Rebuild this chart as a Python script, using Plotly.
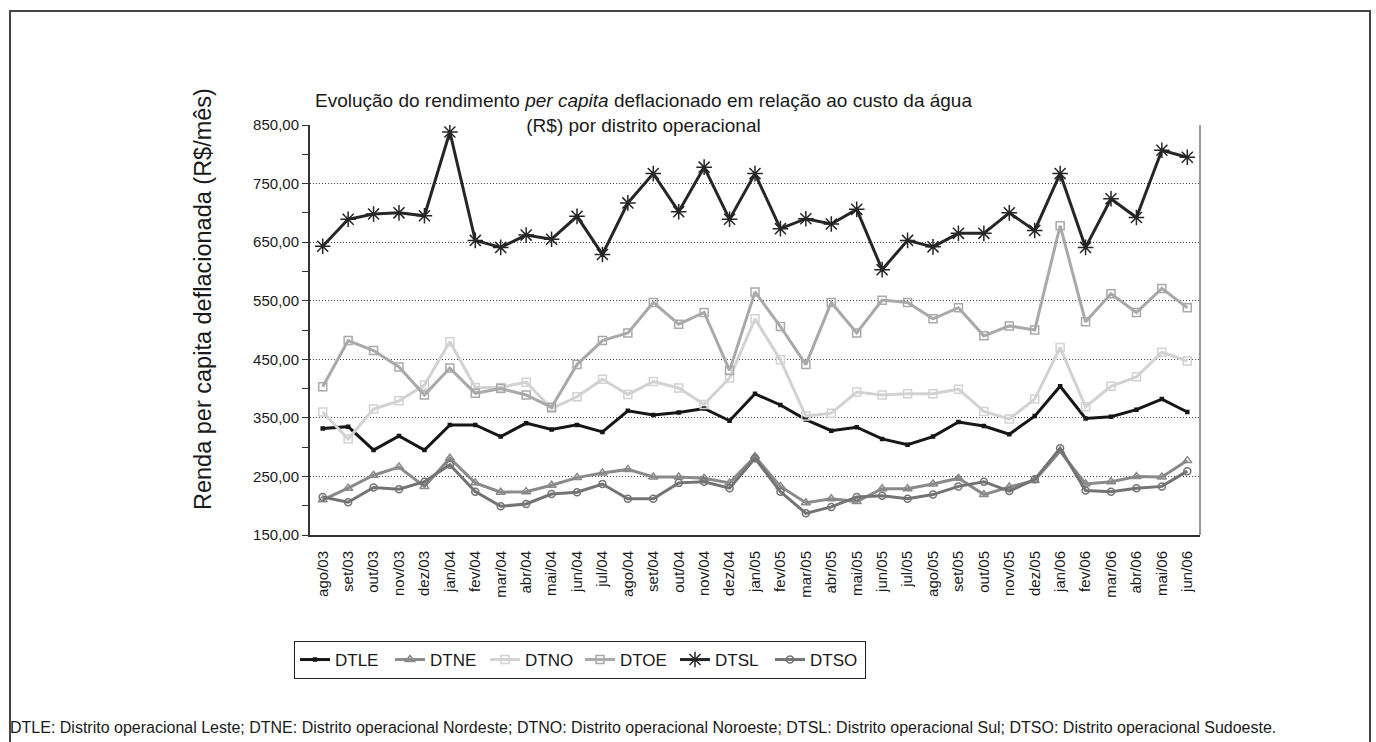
import plotly.graph_objects as go

# Months (ago/03 .. jun/06)
meses = ["ago/03", "set/03", "out/03", "nov/03", "dez/03", "jan/04", "fev/04", "mar/04",
         "abr/04", "mai/04", "jun/04", "jul/04", "ago/04", "set/04", "out/04", "nov/04",
         "dez/04", "jan/05", "fev/05", "mar/05", "abr/05", "mai/05", "jun/05", "jul/05",
         "ago/05", "set/05", "out/05", "nov/05", "dez/05", "jan/06", "fev/06", "mar/06",
         "abr/06", "mai/06", "jun/06"]

dtle = [332, 335, 295, 319, 295, 338, 338, 318, 341, 330, 338, 326, 362, 355, 359, 366,
        345, 391, 372, 347, 328, 334, 314, 304, 318, 343, 336, 322, 353, 404, 349, 352,
        364, 382, 360]
dtne = [210, 230, 252, 266, 233, 281, 239, 223, 224, 235, 248, 256, 262, 249, 249, 247,
        239, 284, 233, 205, 212, 207, 229, 229, 237, 247, 219, 232, 243, 293, 237, 241,
        250, 249, 277]
dtno = [360, 314, 365, 379, 406, 480, 402, 402, 411, 366, 386, 416, 390, 412, 401, 373,
        418, 519, 449, 353, 358, 394, 389, 391, 391, 399, 361, 348, 382, 470, 369, 404,
        420, 462, 447]
dtoe = [403, 482, 465, 437, 389, 435, 392, 400, 389, 368, 441, 482, 495, 547, 510, 530,
        431, 565, 506, 441, 547, 495, 551, 547, 519, 538, 490, 507, 500, 678, 514, 562,
        530, 571, 538]
dtsl = [643, 689, 698, 700, 695, 838, 653, 641, 662, 655, 694, 629, 717, 767, 702, 778,
        689, 767, 673, 690, 681, 706, 603, 653, 642, 665, 665, 700, 670, 767, 641, 724,
        692, 807, 795]
dtso = [215, 206, 231, 228, 241, 270, 224, 199, 203, 220, 223, 237, 212, 212, 239, 241,
        230, 281, 224, 187, 198, 215, 217, 212, 219, 233, 241, 225, 245, 298, 226, 224,
        230, 233, 259]

y_ticks = [150, 250, 350, 450, 550, 650, 750, 850]

W, H = 1376, 742
L, R, T, B = 310, 1200, 125, 535


def px_x(x):
    return (x - L) / (R - L)


def px_y(y):
    return (B - y) / (B - T)


FONT = "Liberation Sans, Arial, sans-serif"

series = [
    ("DTLE", dtle, "#161616", "square", 3, 3.0),
    ("DTNE", dtne, "#8a8a8a", "triangle-up-open", 8, 3.0),
    ("DTNO", dtno, "#d2d2d2", "square-open", 8, 3.0),
    ("DTOE", dtoe, "#a9a9a9", "square-open", 8, 3.0),
    ("DTSL", dtsl, "#262626", "asterisk-open", 13, 3.0),
    ("DTSO", dtso, "#737373", "circle-open", 7, 3.0),
]

fig = go.Figure()
for name, vals, color, sym, size, lw in series:
    fig.add_trace(go.Scatter(
        x=meses, y=vals, name=name, mode="lines+markers",
        line=dict(color=color, width=lw),
        marker=dict(symbol=sym, size=size, color=color,
                    line=dict(color=color, width=1.5)),
    ))

fig.update_layout(
    width=W, height=H,
    margin=dict(l=L, r=W - R, t=T, b=H - B),
    paper_bgcolor="white", plot_bgcolor="white",
    separators=",.",
    font=dict(family=FONT, color="#1a1a1a"),
    showlegend=True,
    legend=dict(
        orientation="h", x=px_x(580), y=px_y(641), xanchor="center", yanchor="top",
        bordercolor="#222", borderwidth=1, font=dict(size=17, family=FONT),
        itemwidth=30, tracegroupgap=0, entrywidth=50, entrywidthmode="pixels",
    ),
)

fig.update_xaxes(
    type="category", range=[-0.5, len(meses) - 0.5],
    tickangle=-90, tickfont=dict(size=15, family=FONT),
    showline=True, linecolor="#333", linewidth=2,
    ticks="outside", ticklen=8, tickcolor="rgba(0,0,0,0)",
    showgrid=False, zeroline=False,
)
fig.update_yaxes(
    range=[150, 850], tickvals=y_ticks, tickformat=".2f",
    tickfont=dict(size=15, family=FONT),
    showline=True, linecolor="#333", linewidth=2,
    ticks="outside", ticklen=6, tickcolor="#333",
    minor=dict(ticks="outside", dtick=50, tick0=150, ticklen=6, tickcolor="#333",
               showgrid=False),
    showgrid=True, gridcolor="#444", griddash="1px,2px", gridwidth=1,
    zeroline=False,
)

shapes = [
    # right edge of the plot area
    dict(type="line", xref="paper", yref="paper", x0=1, x1=1, y0=0, y1=1,
         line=dict(color="#9a9a9a", width=2)),
    # outer frame (open at the bottom)
    dict(type="path", xref="paper", yref="paper",
         path=f"M {px_x(10)},{px_y(745)} L {px_x(10)},{px_y(11)} "
              f"L {px_x(1370)},{px_y(11)} L {px_x(1370)},{px_y(745)}",
         line=dict(color="#444", width=2)),
]
fig.update_layout(shapes=shapes)

annotations = [
    dict(text="Evolução do rendimento <i>per capita</i> deflacionado em relação ao custo da água"
              "<br>(R$) por distrito operacional",
         xref="paper", yref="paper", x=px_x(643), y=px_y(113), xanchor="center",
         yanchor="middle", showarrow=False, align="center",
         font=dict(size=19, family=FONT, color="#1a1a1a")),
    dict(text="Renda per capita deflacionada (R$/mês)",
         xref="paper", yref="paper", x=px_x(203), y=px_y(299), xanchor="center",
         yanchor="middle", textangle=-90, showarrow=False,
         font=dict(size=23.5, family=FONT, color="#1a1a1a")),
    dict(text="DTLE: Distrito operacional Leste; DTNE: Distrito operacional Nordeste; "
              "DTNO: Distrito operacional Noroeste; DTSL: Distrito operacional Sul; "
              "DTSO: Distrito operacional Sudoeste.",
         xref="paper", yref="paper", x=px_x(8), y=px_y(727), xanchor="left",
         yanchor="middle", showarrow=False,
         font=dict(size=16, family=FONT, color="#1a1a1a")),
]
fig.update_layout(annotations=annotations)

fig.write_html("out.html")
